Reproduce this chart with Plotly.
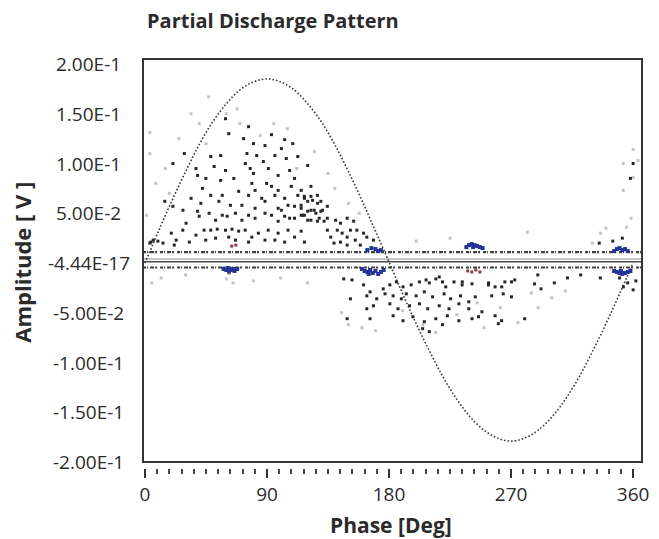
import plotly.graph_objects as go

# ---- reference sine (amplitude of the supply voltage, read every 10 deg) ----
sine_phase = list(range(0, 361, 10))
sine_amp = [0.0, 0.032, 0.063, 0.092, 0.119, 0.142, 0.160, 0.174, 0.182, 0.185,
            0.182, 0.174, 0.160, 0.142, 0.119, 0.092, 0.063, 0.032, 0.001,
            -0.031, -0.061, -0.089, -0.115, -0.137, -0.155, -0.168, -0.176, -0.179,
            -0.176, -0.168, -0.155, -0.137, -0.115, -0.089, -0.061, -0.031, 0.0]

# ---- discharge pulses, positive half cycle ----
pos_phase = [59.4, 61.8, 76.4, 93.3, 72.7, 80, 88.5, 103, 109, 100.6, 29, 48.5, 55.8, 75.2, 82.4,
             87.3, 95.8, 104.2, 112.7, 120, 20.6, 37.6, 51, 59.4, 74, 77.6, 80, 91, 98.2, 106.7,
             110.3, 38.8, 44.9, 55.8, 65.5, 78.8, 89.7, 93.3, 81.2, 98.2, 107.9, 115.2, 122.4,
             42.4, 48.5, 57, 69.1, 76.4, 86.1, 95.8, 103, 112.7, 117.6, 122.4, 127.3, 34, 41.2,
             54.5, 63, 71.5, 81.2, 88.5, 98.2, 105.5, 115.2, 120, 124.8, 129.7, 14.6, 20.6, 28,
             38.8, 47.3, 57, 66.7, 76.4, 93.3, 103, 110.3, 117.6, 122.4, 128.5, 132.1,
             19.4, 27.9, 37.6, 43.6, 48.5, 53.3, 59.4, 64.2, 69.1, 73.9, 78.8, 83.6, 90.9, 98.2,
             105.5, 110.3, 115.2, 6.1, 13.3, 23, 32.7, 44.8, 52.1, 61.8, 66.7, 76.4, 88.5, 95.8,
             103, 3.6, 117.6, 30.3, 40, 52.1, 60.6, 71.5, 81.2, 88.5, 98.2, 106.7, 115.2, 100.6,
             110.3, 117.5, 120, 115.1, 123.6, 127.2, 129.7, 122.4, 116.3, 126, 130.9, 134.5, 120,
             127.2, 134.5, 140.6, 144.2, 149.1, 153.9, 141.8, 145.4, 149.1, 137, 151.5, 156.3,
             161.2, 134.5, 139.4, 144.2, 149.1, 155.1, 158.8, 163.6, 168.5, 4.4, 9.5, 21.6,
             360, 358, 335, 345, 352]
pos_amp = [0.145, 0.130, 0.137, 0.129, 0.125, 0.120, 0.118, 0.124, 0.120, 0.115, 0.110, 0.107,
           0.108, 0.110, 0.108, 0.102, 0.108, 0.105, 0.107, 0.098, 0.100, 0.095, 0.097, 0.093,
           0.100, 0.095, 0.090, 0.095, 0.088, 0.093, 0.085, 0.088, 0.085, 0.083, 0.085, 0.080,
           0.080, 0.077, 0.073, 0.073, 0.077, 0.073, 0.077, 0.075, 0.068, 0.068, 0.072, 0.068,
           0.065, 0.068, 0.065, 0.068, 0.065, 0.067, 0.060, 0.065, 0.060, 0.062, 0.058, 0.058,
           0.055, 0.062, 0.055, 0.058, 0.055, 0.052, 0.053, 0.052, 0.062, 0.057, 0.053, 0.052,
           0.050, 0.048, 0.050, 0.048, 0.048, 0.047, 0.045, 0.048, 0.043, 0.045, 0.042,
           0.030, 0.033, 0.028, 0.033, 0.033, 0.034, 0.033, 0.034, 0.032, 0.033, 0.026, 0.030,
           0.033, 0.030, 0.033, 0.026, 0.032, 0.023, 0.020, 0.023, 0.021, 0.023, 0.025, 0.026,
           0.023, 0.021, 0.023, 0.023, 0.021, 0.020, 0.021, 0.040, 0.047, 0.043, 0.047, 0.043,
           0.045, 0.050, 0.042, 0.045, 0.048, 0.053, 0.057, 0.067, 0.062, 0.058, 0.063, 0.068,
           0.062, 0.053, 0.048, 0.050, 0.053, 0.057, 0.043, 0.042, 0.045, 0.043, 0.040, 0.045,
           0.042, 0.033, 0.030, 0.026, 0.026, 0.033, 0.033, 0.030, 0.033, 0.020, 0.021, 0.018,
           0.023, 0.018, 0.026, 0.023, 0.021, 0.022, 0.018,
           0.100, 0.085, 0.020, 0.022, 0.025]

# ---- discharge pulses, negative half cycle ----
neg_phase = [146.6, 152.7, 161.2, 166, 175.7, 180.6, 185.4, 190.3, 196.3, 202.4, 207.3, 214.5,
             219.4, 221.8, 227.9, 233.9, 241.2, 253.3, 258.2, 265.4, 272.7, 287.3, 292.1, 151.5,
             163.6, 170.9, 177, 183, 189.1, 192.7, 200, 206, 212.1, 220.6, 225.4, 232.7, 238.8,
             243.6, 255.7, 264.2, 270.3, 163.6, 168.5, 180.6, 186.6, 195.1, 202.4, 208.5, 217,
             224.2, 231.5, 238.8, 248.5, 149.1, 166, 183, 190.3, 197.6, 206, 214.5, 223, 231.5,
             241.2, 246, 258.2, 280, 204.8, 209.7, 219.4, 260.6, 263, 217, 209.7, 234, 253.4,
             263.1, 270.3, 289.7, 301.9, 311.6, 321.3, 335.8, 352.8, 350, 356, 360, 362]
neg_amp = [-0.016, -0.017, -0.022, -0.029, -0.026, -0.022, -0.019, -0.024, -0.022, -0.019, -0.017,
           -0.016, -0.019, -0.024, -0.019, -0.022, -0.021, -0.022, -0.024, -0.019, -0.017, -0.021,
           -0.026, -0.036, -0.033, -0.036, -0.031, -0.033, -0.036, -0.031, -0.033, -0.029, -0.034,
           -0.031, -0.036, -0.033, -0.039, -0.034, -0.033, -0.031, -0.034, -0.046, -0.043, -0.041,
           -0.046, -0.043, -0.041, -0.046, -0.043, -0.046, -0.041, -0.046, -0.049, -0.056, -0.056,
           -0.053, -0.058, -0.054, -0.059, -0.056, -0.053, -0.058, -0.056, -0.054, -0.053, -0.056,
           -0.066, -0.069, -0.062, -0.061, -0.058, -0.014, -0.020, -0.019, -0.020, -0.024, -0.019,
           -0.012, -0.020, -0.015, -0.012, -0.015, -0.024, -0.015, -0.020, -0.027, -0.018]

# ---- faint, low-count pulses ----
faint_phase = [3.6, 3.6, 34, 47, 1.2, 360, 352.7, 363.6, 360, 352.7, 358.5, 282, 336, 340, 355,
               214.5, 5, 12, 30, 150, 145, 60, 40, 25, 15, 8, 68, 140, 150, 300, 290, 275, 160,
               170, 250, 200, 225, 330, 100, 120, 80, 60, 65,
               70, 85, 105, 125, 135, 18, 45, 95, 112, 158, 190, 205, 230, 245, 262, 285, 310]
faint_amp = [0.131, 0.110, 0.150, 0.167, 0.048, 0.114, 0.100, 0.103, 0.086, 0.073, 0.045, 0.031,
             0.030, 0.035, 0.036, -0.070, -0.020, -0.015, -0.012, -0.062, -0.050, 0.150, 0.140,
             0.125, 0.095, 0.080, 0.155, 0.075, 0.060, -0.035, -0.045, -0.060, -0.065, -0.068,
             -0.065, 0.022, 0.025, 0.020, -0.015, -0.020, -0.018, -0.016, -0.020,
             0.140, 0.128, 0.135, 0.112, 0.090, 0.070, 0.120, 0.140, 0.095, 0.050, -0.048,
             -0.062, -0.052, -0.040, -0.045, -0.030, -0.028]

# ---- high-count clusters ----
blue_phase = [58, 60, 62, 64, 66, 68, 61, 65,
              164, 167, 170, 172, 174,
              160, 162, 164, 166, 168, 170, 172, 174, 176, 165,
              237, 239, 241, 243, 245, 247, 249, 242,
              346, 348, 350, 352, 354, 356,
              346, 348, 350, 352, 354, 356, 358, 351]
blue_amp = [-0.006, -0.007, -0.008, -0.007, -0.008, -0.006, -0.005, -0.006,
            0.013, 0.015, 0.014, 0.012, 0.013,
            -0.006, -0.008, -0.009, -0.007, -0.010, -0.008, -0.011, -0.009, -0.007, -0.011,
            0.016, 0.018, 0.019, 0.018, 0.017, 0.016, 0.015, 0.016,
            0.012, 0.014, 0.015, 0.013, 0.014, 0.012,
            -0.008, -0.009, -0.010, -0.011, -0.010, -0.009, -0.008, -0.008]
red_phase = [238, 241, 244, 247, 64, 67, 62]
red_amp = [-0.008, -0.009, -0.007, -0.009, 0.017, 0.018, -0.010]

# ---- noise floor rows and baseline ----
band_levels = [0.011, -0.0045]
baseline_levels = [0.004, 0.0012]

# ---- axis ticks ----
x_ticks = [0, 90, 180, 270, 360]
y_tick_vals = [0.2, 0.15, 0.1, 0.05, 0.0, -0.05, -0.1, -0.15, -0.2]
y_tick_text = ["2.00E-1", "1.50E-1", "1.00E-1", "5.00E-2", "-4.44E-17",
               "-5.00E-2", "-1.00E-1", "-1.50E-1", "-2.00E-1"]

TXT = "#2b2b2b"
FONT = "Open Sans"

fig = go.Figure()

fig.add_trace(go.Scatter(x=faint_phase, y=faint_amp, mode="markers", cliponaxis=False,
                         marker=dict(symbol="square", size=3, color="#c4c4c4"),
                         showlegend=False, hoverinfo="skip"))

for lvl in band_levels:
    fig.add_trace(go.Scatter(x=[-1.4, 366.5], y=[lvl, lvl], mode="lines",
                             line=dict(color="#3c3c3c", width=2.2,
                                       dash="3px,1px,1px,2px,4px,1px,2px,3px"),
                             showlegend=False, hoverinfo="skip"))

fig.add_trace(go.Scatter(x=[-1.4, 366.5], y=[baseline_levels[0]] * 2, mode="lines",
                         line=dict(color="#8c8c8c", width=1.2), showlegend=False))
fig.add_trace(go.Scatter(x=[-1.4, 366.5], y=[baseline_levels[1]] * 2, mode="lines",
                         line=dict(color="#4a4a4a", width=1.6), showlegend=False))

fig.add_trace(go.Scatter(x=sine_phase, y=sine_amp, mode="lines",
                         line=dict(color="#3a3a3a", width=1.6, dash="1.6px,2px", shape="spline"),
                         showlegend=False, hoverinfo="skip"))

fig.add_trace(go.Scatter(x=pos_phase + neg_phase, y=pos_amp + neg_amp, mode="markers",
                         cliponaxis=False,
                         marker=dict(symbol="square", size=3, color="#262626"),
                         showlegend=False))

fig.add_trace(go.Scatter(x=red_phase, y=red_amp, mode="markers",
                         marker=dict(symbol="square", size=3, color="#8a3a4a"),
                         showlegend=False))
fig.add_trace(go.Scatter(x=blue_phase, y=blue_amp, mode="markers", cliponaxis=False,
                         marker=dict(symbol="square", size=4, color="#24349a"),
                         showlegend=False))

# plot frame
PX_L, PX_R, PX_T, PX_B = 143, 649, 59, 468
W, H = 659, 539
pw, ph = PX_R - PX_L, PX_B - PX_T
frame_bottom = (PX_B - 462) / ph
fig.add_shape(type="rect", xref="paper", yref="paper", x0=0, x1=1, y0=frame_bottom, y1=1,
              line=dict(color="#333333", width=2), fillcolor="rgba(0,0,0,0)")

# y tick labels, centred under one another
for v, t in zip(y_tick_vals, y_tick_text):
    fig.add_annotation(x=(88 - PX_L) / pw, xref="paper", y=v, yref="y", text=t,
                       showarrow=False, xanchor="center", yanchor="middle",
                       font=dict(family=FONT, size=19, color=TXT))

fig.add_annotation(x=(145 - PX_L) / pw, xref="paper", y=(PX_B - 20) / ph, yref="paper",
                   text="<b>Partial Discharge Pattern</b>", showarrow=False,
                   xanchor="left", yanchor="middle",
                   font=dict(family=FONT, size=20, color=TXT))
fig.add_annotation(x=(20 - PX_L) / pw, xref="paper", y=(PX_B - 262) / ph, yref="paper",
                   text="<b>Amplitude [ V ]</b>", textangle=-90, showarrow=False,
                   xanchor="center", yanchor="middle",
                   font=dict(family=FONT, size=22, color=TXT))
fig.add_annotation(x=(394 - PX_L) / pw, xref="paper", y=(PX_B - 525) / ph, yref="paper",
                   text="<b>Phase [Deg]</b>", showarrow=False,
                   xanchor="center", yanchor="middle",
                   font=dict(family=FONT, size=21, color=TXT))

deg_per_px = 360 / 495
fig.update_layout(
    width=W, height=H,
    margin=dict(l=PX_L, r=W - PX_R, t=PX_T, b=H - PX_B, pad=0),
    paper_bgcolor="white", plot_bgcolor="white",
    showlegend=False,
    xaxis=dict(range=[-2 * deg_per_px, 360 + 9 * deg_per_px], tickmode="array",
               tickvals=x_ticks, ticktext=[str(v) for v in x_ticks],
               ticks="outside", ticklen=9, tickwidth=1.5, tickcolor="#333333",
               minor=dict(dtick=9, tick0=0, ticks="outside", ticklen=5, tickwidth=1.5,
                          tickcolor="#444444", showgrid=False),
               showline=False, showgrid=False, zeroline=False,
               tickfont=dict(family=FONT, size=19, color=TXT), fixedrange=True),
    yaxis=dict(range=[-205 / 995, 204 / 995], showticklabels=False, ticks="",
               showline=False, showgrid=False, zeroline=False, fixedrange=True),
)

fig.write_html("out.html")
